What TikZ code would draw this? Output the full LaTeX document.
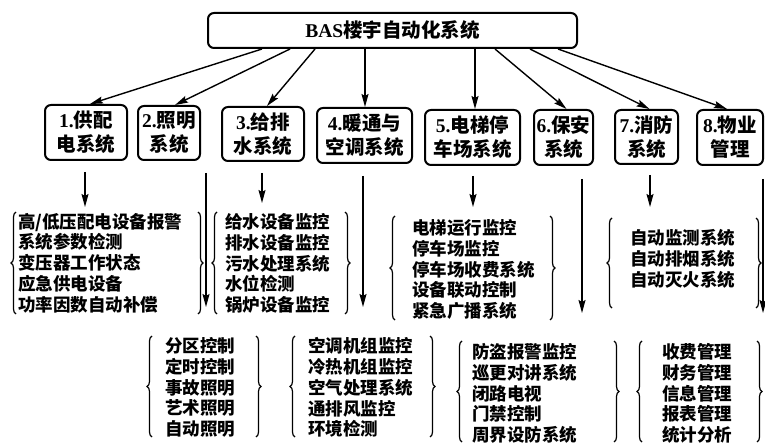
\documentclass[tikz,border=0pt]{standalone}
\usepackage{fontspec}
\newfontfamily\cjk{Noto Sans CJK SC}
\newfontfamily\lat{Liberation Serif}
\usetikzlibrary{arrows.meta,decorations.pathreplacing}
\begin{document}
\begin{tikzpicture}[x=1pt,y=-1pt,
  sysbox/.style={draw,line width=2pt,rounded corners=6pt,inner sep=0pt,align=center,
    font=\cjk\bfseries\fontsize{19.5}{24}\selectfont},
  arr/.style={line width=1.4pt,-{Stealth[length=13pt,width=7pt,inset=2pt]}},
  items/.style={anchor=west,inner sep=0pt,align=left,font=\cjk\bfseries\fontsize{17.5}{20.8}\selectfont},
  brace/.style={line width=1.2pt,decorate,decoration={brace,amplitude=5pt}}]
\useasboundingbox (0,0) rectangle (765,443);
% top
\node[sysbox,minimum width=369pt,minimum height=35pt] (top) at (392.5,30.5) {{\lat BAS}楼宇自动化系统};
% level 2
\node[sysbox,minimum width=82pt,minimum height=55pt] (b1) at (86,132.5) {{\lat 1.}供配\\电系统};
\node[sysbox,minimum width=62pt,minimum height=54pt] (b2) at (169,133) {{\lat 2.}照明\\系统};
\node[sysbox,minimum width=82pt,minimum height=54pt] (b3) at (263,134) {{\lat 3.}给排\\水系统};
\node[sysbox,minimum width=95pt,minimum height=55pt] (b4) at (364.5,135.5) {{\lat 4.}暖通与\\空调系统};
\node[sysbox,minimum width=95pt,minimum height=55pt] (b5) at (472.5,137.5) {{\lat 5.}电梯停\\车场系统};
\node[sysbox,minimum width=59pt,minimum height=55pt] (b6) at (563.5,137.5) {{\lat 6.}保安\\系统};
\node[sysbox,minimum width=63pt,minimum height=54pt] (b7) at (646.5,137) {{\lat 7.}消防\\系统};
\node[sysbox,minimum width=66pt,minimum height=55pt] (b8) at (730,137.5) {{\lat 8.}物业\\管理};
% arrows top -> level 2
\draw[arr] (top.south -| 262,0) -- ([xshift=4pt]b1.north);
\draw[arr] (top.south -| 290,0) -- ([xshift=6pt]b2.north);
\draw[arr] (top.south -| 315,0) -- ([xshift=4pt]b3.north);
\draw[arr] (top.south -| 365,0) -- (b4.north -| 365,0);
\draw[arr] (top.south -| 475,0) -- (b5.north -| 475,0);
\draw[arr] (top.south -| 495,0) -- ([xshift=3pt]b6.north);
\draw[arr] (top.south -| 530,0) -- ([xshift=3pt]b7.north);
\draw[arr] (top.south -| 558,0) -- ([xshift=-3pt]b8.north);
% groups
\node[items] (g1) at (18,263) {高/低压配电设备报警\\系统参数检测\\变压器工作状态\\应急供电设备\\功率因数自动补偿};
\node[items] (g3) at (225,263.5) {给水设备监控\\排水设备监控\\污水处理系统\\水位检测\\锅炉设备监控};
\node[items] (g5) at (412,269.5) {电梯运行监控\\停车场监控\\停车场收费系统\\设备联动控制\\紧急广播系统};
\node[items] (g7) at (630,259) {自动监测系统\\自动排烟系统\\自动灭火系统};
\node[items] (g2) at (165,387.5) {分区控制\\定时控制\\事故照明\\艺术照明\\自动照明};
\node[items] (g4) at (308,387.5) {空调机组监控\\冷热机组监控\\空气处理系统\\通排风监控\\环境检测};
\node[items] (g6) at (472,393.5) {防盗报警监控\\巡更对讲系统\\闭路电视\\门禁控制\\周界设防系统};
\node[items] (g8) at (662,393.5) {收费管理\\财务管理\\信息管理\\报表管理\\统计分析};
% braces
\draw[brace] (16,314) -- (16,212);   \draw[brace] (198,212) -- (198,314);
\draw[brace] (217,314) -- (217,212); \draw[brace] (345,212) -- (345,314);
\draw[brace] (395,320) -- (395,216); \draw[brace] (550,216) -- (550,320);
\draw[brace] (612,308) -- (612,218); \draw[brace] (756,218) -- (756,308);
\draw[brace] (152,437) -- (152,336); \draw[brace] (256,336) -- (256,437);
\draw[brace] (295,437) -- (295,336); \draw[brace] (430,336) -- (430,437);
\draw[brace] (462,442) -- (462,341); \draw[brace] (614,341) -- (614,442);
\draw[brace] (642,442) -- (642,341); \draw[brace] (757,341) -- (757,442);
% level 3 arrows
\coordinate (e1) at (85,207);  \coordinate (e2) at (206,307);
\coordinate (e3) at (262,203); \coordinate (e4) at (363,307);
\coordinate (e5) at (473,207); \coordinate (e6) at (582,313);
\coordinate (e7) at (650,207); \coordinate (e8) at (763,313);
\draw[arr] (b1.south -| e1) ++(0,11) -- (e1);
\draw[arr] (b2.south -| e2) ++(0,12) -- (e2);
\draw[arr] (b3.south -| e3) ++(0,11) -- (e3);
\draw[arr] (b4.south -| e4) ++(0,12) -- (e4);
\draw[arr] (b5.south -| e5) ++(0,10) -- (e5);
\draw[arr] (b6.south -| e6) ++(0,13) -- (e6);
\draw[arr] (b7.south -| e7) ++(0,10) -- (e7);
\draw[arr] (b8.south -| e8) ++(0,13) -- (e8);
\end{tikzpicture}
\end{document}
